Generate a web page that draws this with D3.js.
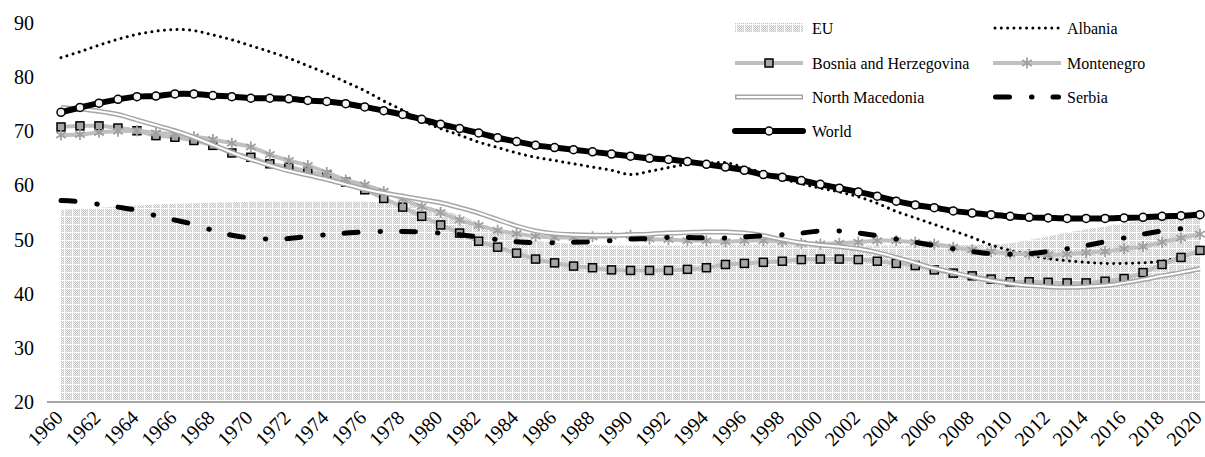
<!DOCTYPE html>
<html>
<head>
<meta charset="utf-8">
<script src="https://cdn.jsdelivr.net/npm/d3@7"></script>
<style>
  body { margin: 0; background: #fff; }
  svg { display: block; font-family: "Liberation Serif", "Times New Roman", serif; }
</style>
</head>
<body>
<svg id="chart" width="1205" height="457"></svg>
<script>
// years on the x axis
var years = d3.range(1960, 2021);
var yTicks = [20, 30, 40, 50, 60, 70, 80, 90];
var xTickYears = d3.range(1960, 2021, 2);

// values, 1960..2020
var eu = [55.5,55.7,55.9,56.1,56.3,56.5,56.6,56.7,56.8,56.9,
          57.0,57.0,57.0,57.0,57.0,57.0,57.0,56.9,56.7,56.3,
          55.6,54.5,53.2,51.8,50.6,49.8,49.4,49.2,49.0,48.9,
          48.9,48.9,48.9,48.9,49.0,49.0,49.1,49.1,49.1,49.0,
          49.0,48.9,48.9,48.9,48.9,48.9,49.0,49.0,49.0,49.1,
          49.3,49.9,50.6,51.3,51.9,52.4,53.0,53.6,54.3,54.9,55.4];
var albania = [83.6,84.7,85.9,87.0,87.9,88.5,88.8,88.6,87.8,86.9,
               85.8,84.7,83.5,82.1,80.7,79.1,77.5,75.6,73.9,72.0,
               70.5,69.3,68.0,67.0,66.0,65.2,64.6,64.0,63.4,62.8,
               62.0,62.6,63.3,63.9,64.1,64.2,63.3,62.3,61.2,60.3,
               59.5,58.8,57.9,56.7,55.2,54.0,52.8,51.6,50.4,49.0,
               48.0,47.2,46.5,46.1,45.8,45.6,45.6,45.7,46.0,46.8,47.8];
var bosnia = [70.8,71.0,71.0,70.6,70.1,69.2,68.9,68.3,67.4,66.0,
              65.2,64.0,63.4,62.6,61.9,60.6,59.2,57.6,56.0,54.3,
              52.7,51.2,49.7,48.6,47.5,46.4,45.7,45.1,44.8,44.4,
              44.3,44.3,44.3,44.5,44.8,45.4,45.6,45.8,46.0,46.3,
              46.4,46.4,46.3,46.0,45.6,45.2,44.4,43.8,43.3,42.7,
              42.2,42.2,42.1,42.0,42.0,42.3,42.8,43.9,45.4,46.7,48.0];
var montenegro = [69.3,69.4,69.8,70.0,70.1,69.7,69.5,69.0,68.5,67.8,
                  67.1,65.7,64.6,63.7,62.4,61.0,60.1,58.9,57.5,56.1,
                  55.0,53.6,52.6,51.7,51.1,50.6,50.4,50.4,50.5,50.6,
                  50.8,50.1,50.0,49.8,49.8,49.6,49.8,49.8,49.6,49.3,
                  49.2,49.3,49.5,49.8,49.8,49.5,49.2,48.6,48.1,47.8,
                  47.4,47.3,47.2,47.3,47.6,47.8,48.3,48.7,49.5,50.3,51.0];
var northMacedonia = [74.4,74.1,73.7,73.1,72.1,71.1,70.1,68.9,67.5,66.1,
                      64.8,63.7,62.7,61.9,61.1,60.2,59.3,58.6,58.0,57.4,
                      56.8,55.9,54.9,53.7,52.5,51.6,51.1,50.9,50.8,50.8,
                      50.9,51.0,51.2,51.3,51.4,51.4,51.2,50.7,50.0,49.4,
                      49.0,48.7,48.3,47.6,46.7,45.7,44.7,43.9,43.1,42.4,
                      41.9,41.5,41.3,41.2,41.3,41.5,42.0,42.6,43.3,43.9,44.6];
var serbia = [57.2,57.0,56.5,56.0,55.4,54.4,53.6,52.8,51.7,50.8,
              50.3,50.1,50.2,50.6,50.9,51.2,51.4,51.5,51.5,51.4,
              51.2,50.9,50.5,50.0,49.6,49.4,49.4,49.5,49.6,49.8,
              50.1,50.2,50.4,50.4,50.3,50.3,50.5,50.7,50.9,51.2,
              51.6,51.6,51.2,50.7,50.1,49.5,48.9,48.3,47.8,47.4,
              47.3,47.4,47.8,48.3,48.9,49.6,50.3,51.0,51.6,52.0,52.3];
var world = [73.5,74.4,75.2,75.9,76.4,76.5,76.9,76.9,76.6,76.4,
             76.1,76.1,76.0,75.7,75.5,75.1,74.5,73.8,73.1,72.2,
             71.3,70.5,69.7,68.8,68.1,67.4,67.0,66.6,66.2,65.8,
             65.4,65.0,64.8,64.4,63.9,63.4,62.8,62.0,61.5,60.9,
             60.2,59.5,58.8,58.0,57.1,56.4,55.9,55.3,54.9,54.6,
             54.3,54.1,54.0,53.9,53.9,53.9,54.0,54.1,54.3,54.4,54.6];

var svg = d3.select('#chart');

var x = d3.scaleLinear().domain([1960, 2020]).range([61, 1200]);
var y = d3.scaleLinear().domain([20, 90]).range([402, 23]);

// pattern for the EU area: fine gray checker with a white grid
var defs = svg.append('defs');
var pat = defs.append('pattern')
    .attr('id', 'euPat')
    .attr('patternUnits', 'userSpaceOnUse')
    .attr('width', 8).attr('height', 8);
pat.append('rect').attr('width', 8).attr('height', 8).attr('fill', '#ffffff');
for (var i = 0; i < 8; i++) {
    for (var j = 0; j < 8; j++) {
        if (i == 0 || j == 0) continue;
        if ((i + j) % 2 == 0) {
            pat.append('rect').attr('x', i).attr('y', j)
                .attr('width', 1).attr('height', 1).attr('fill', '#c8c8c8');
        } else {
            pat.append('rect').attr('x', i).attr('y', j)
                .attr('width', 1).attr('height', 1).attr('fill', '#f0f0f0');
        }
    }
}

function pts(vals) {
    return vals.map(function (v, k) { return [years[k], v]; });
}

// EU area
var area = d3.area()
    .x(d => x(d[0]))
    .y0(y(20))
    .y1(d => y(d[1]));

svg.append('path')
    .datum(pts(eu))
    .attr('d', area)
    .attr('fill', 'url(#euPat)');

// x axis line
svg.append('line')
    .attr('x1', 47).attr('x2', 1205)
    .attr('y1', y(20)).attr('y2', y(20))
    .style('stroke', '#a6a6a6')
    .style('stroke-width', 2);

var smooth = d3.line()
    .x(d => x(d[0]))
    .y(d => y(d[1]))
    .curve(d3.curveCatmullRom.alpha(0.5));

// Albania - dotted
svg.append('path')
    .datum(pts(albania))
    .attr('d', smooth)
    .attr('fill', 'none')
    .style('stroke', 'black')
    .style('stroke-width', 3)
    .style('stroke-linecap', 'round')
    .style('stroke-dasharray', '0.01,6.3');

// Bosnia - light line + squares
svg.append('path')
    .datum(pts(bosnia))
    .attr('d', smooth)
    .attr('fill', 'none')
    .style('stroke', '#bfbfbf')
    .style('stroke-width', 4);
svg.append('g').selectAll('rect')
    .data(pts(bosnia))
    .enter()
    .append('rect')
    .attr('x', d => x(d[0]) - 4)
    .attr('y', d => y(d[1]) - 4)
    .attr('width', 8)
    .attr('height', 8)
    .style('fill', '#a6a6a6')
    .style('stroke', 'black')
    .style('stroke-width', 1.5);

// Montenegro - light line + asterisks
var starPath = 'M0,-5.5L0,5.5M-4.8,-3L4.8,3M-4.8,3L4.8,-3';
svg.append('path')
    .datum(pts(montenegro))
    .attr('d', smooth)
    .attr('fill', 'none')
    .style('stroke', '#c0c0c0')
    .style('stroke-width', 4);
svg.append('g').selectAll('path')
    .data(pts(montenegro))
    .enter()
    .append('path')
    .attr('d', starPath)
    .attr('transform', d => 'translate(' + x(d[0]) + ',' + y(d[1]) + ')')
    .style('stroke', '#a0a0a0')
    .style('stroke-width', 1.8)
    .style('fill', 'none');

// North Macedonia - double line
svg.append('path')
    .datum(pts(northMacedonia))
    .attr('d', smooth)
    .attr('fill', 'none')
    .style('stroke', '#a6a6a6')
    .style('stroke-width', 5);
svg.append('path')
    .datum(pts(northMacedonia))
    .attr('d', smooth)
    .attr('fill', 'none')
    .style('stroke', '#ffffff')
    .style('stroke-width', 2);

// Serbia - long dash dot
svg.append('path')
    .datum(pts(serbia))
    .attr('d', smooth)
    .attr('fill', 'none')
    .style('stroke', 'black')
    .style('stroke-width', 5)
    .style('stroke-linecap', 'round')
    .style('stroke-dasharray', '14,22,0.5,21');

// World - thick line + circles
svg.append('path')
    .datum(pts(world))
    .attr('d', smooth)
    .attr('fill', 'none')
    .style('stroke', 'black')
    .style('stroke-width', 6);
svg.append('g').selectAll('circle')
    .data(pts(world))
    .enter()
    .append('circle')
    .attr('cx', d => x(d[0]))
    .attr('cy', d => y(d[1]))
    .attr('r', 4)
    .style('fill', '#f2f2f2')
    .style('stroke', 'black')
    .style('stroke-width', 1.5);

// y tick labels
svg.append('g').selectAll('text')
    .data(yTicks)
    .enter()
    .append('text')
    .attr('x', 34)
    .attr('y', d => y(d))
    .attr('dy', '0.35em')
    .attr('text-anchor', 'end')
    .style('font-size', '20px')
    .text(d => d);

// x tick labels, rotated
svg.append('g').selectAll('text')
    .data(xTickYears)
    .enter()
    .append('text')
    .attr('transform', d => 'translate(' + (x(d) - 2) + ',414) rotate(-45)')
    .attr('dy', '0.35em')
    .attr('text-anchor', 'end')
    .style('font-size', '20px')
    .text(d => d);

// legend
var legendItems = [
    { name: 'EU', col: 0, row: 0, kind: 'area' },
    { name: 'Albania', col: 1, row: 0, kind: 'dot' },
    { name: 'Bosnia and Herzegovina', col: 0, row: 1, kind: 'square' },
    { name: 'Montenegro', col: 1, row: 1, kind: 'star' },
    { name: 'North Macedonia', col: 0, row: 2, kind: 'double' },
    { name: 'Serbia', col: 1, row: 2, kind: 'dashdot' },
    { name: 'World', col: 0, row: 3, kind: 'world' }
];
var colX = [735, 993];
var rowY = [28, 63, 97, 131];
var swW = 68;

legendItems.forEach(function (it) {
    var x0 = colX[it.col], yy = rowY[it.row];
    var g = svg.append('g');
    if (it.kind == 'area') {
        g.append('rect').attr('x', x0).attr('y', yy - 5).attr('width', swW).attr('height', 10)
            .attr('fill', 'url(#euPat)');
    } else if (it.kind == 'dot') {
        g.append('line').attr('x1', x0 + 2).attr('x2', x0 + swW - 2).attr('y1', yy).attr('y2', yy)
            .style('stroke', 'black').style('stroke-width', 3)
            .style('stroke-linecap', 'round').style('stroke-dasharray', '0.01,6.3');
    } else if (it.kind == 'square') {
        g.append('line').attr('x1', x0).attr('x2', x0 + swW).attr('y1', yy).attr('y2', yy)
            .style('stroke', '#bfbfbf').style('stroke-width', 4);
        g.append('rect').attr('x', x0 + swW / 2 - 4).attr('y', yy - 4).attr('width', 8).attr('height', 8)
            .style('fill', '#a6a6a6').style('stroke', 'black').style('stroke-width', 1.5);
    } else if (it.kind == 'star') {
        g.append('line').attr('x1', x0).attr('x2', x0 + swW).attr('y1', yy).attr('y2', yy)
            .style('stroke', '#c0c0c0').style('stroke-width', 4);
        g.append('path').attr('d', starPath)
            .attr('transform', 'translate(' + (x0 + swW / 2) + ',' + yy + ')')
            .style('stroke', '#a0a0a0').style('stroke-width', 1.8);
    } else if (it.kind == 'double') {
        g.append('line').attr('x1', x0).attr('x2', x0 + swW).attr('y1', yy).attr('y2', yy)
            .style('stroke', '#a6a6a6').style('stroke-width', 5);
        g.append('line').attr('x1', x0 + 1.5).attr('x2', x0 + swW - 1.5).attr('y1', yy).attr('y2', yy)
            .style('stroke', '#ffffff').style('stroke-width', 2);
    } else if (it.kind == 'dashdot') {
        g.append('line').attr('x1', x0 + 2.5).attr('x2', x0 + swW - 2.5).attr('y1', yy).attr('y2', yy)
            .style('stroke', 'black').style('stroke-width', 5)
            .style('stroke-linecap', 'round').style('stroke-dasharray', '14,22,0.5,21');
    } else if (it.kind == 'world') {
        g.append('line').attr('x1', x0).attr('x2', x0 + swW).attr('y1', yy).attr('y2', yy)
            .style('stroke', 'black').style('stroke-width', 6).style('stroke-linecap', 'round');
        g.append('circle').attr('cx', x0 + swW / 2).attr('cy', yy).attr('r', 4)
            .style('fill', '#f2f2f2').style('stroke', 'black').style('stroke-width', 1.5);
    }
    g.append('text')
        .attr('x', x0 + swW + 9 - (it.col == 1 ? 3 : 0))
        .attr('y', yy)
        .attr('dy', '0.35em')
        .style('font-size', '16px')
        .text(it.name);
});
</script>
</body>
</html>
